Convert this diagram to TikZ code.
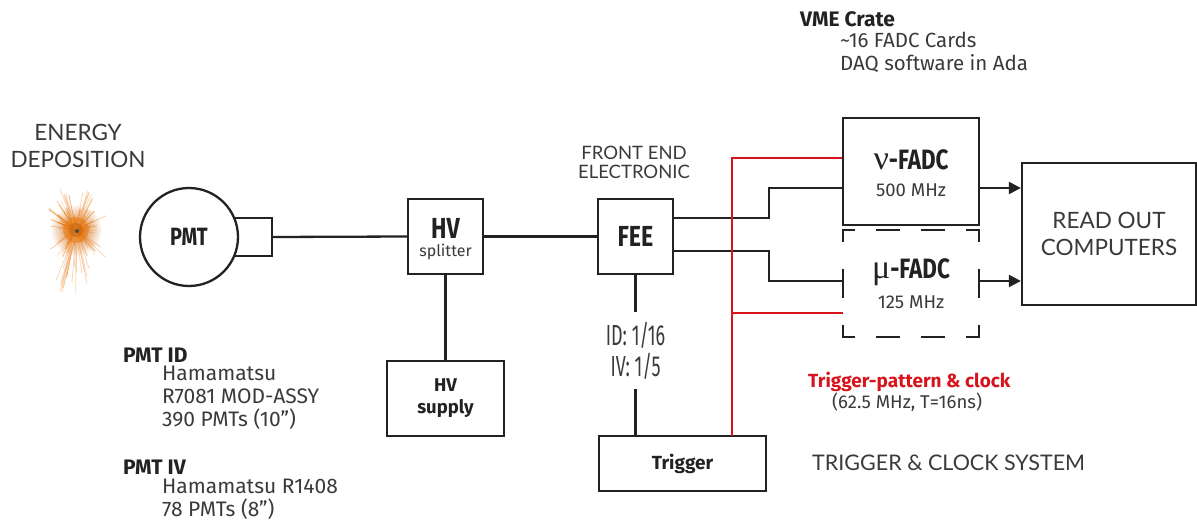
\documentclass[tikz,border=0pt]{standalone}
\usepackage{fontspec}
\setmainfont{Fira Sans}
\newfontfamily\condfont[FakeStretch=0.8]{Fira Sans}
\newfontfamily\idfont[FakeStretch=0.62]{Fira Sans}
\newfontfamily\geofont{Lato}
\newfontfamily\grkfont{Liberation Serif}
\usetikzlibrary{arrows.meta}
\definecolor{txt}{HTML}{3A3A3A}
\definecolor{dark}{HTML}{222222}
\definecolor{redline}{HTML}{D7141E}
\definecolor{burstc}{HTML}{E87A14}
\tikzset{
  box/.style={draw=dark, line width=2.3pt, fill=white, inner sep=0pt},
  wire/.style={draw=dark, line width=2.3pt},
  redwire/.style={draw=redline, line width=2.7pt},
  arr/.style={wire, -{Triangle[length=12pt,width=12pt]}},
  dbox/.style={draw=dark, line width=2.3pt, line cap=rect},
  lbl/.style={inner sep=0pt, text=txt},
  geo/.style={inner sep=0pt, text=txt, font=\geofont\fontsize{22.5}{27}\selectfont, align=center},
  boldc/.style={inner sep=0pt, text=dark, font=\condfont\bfseries\fontsize{29}{29}\selectfont},
  sub/.style={inner sep=0pt, text=txt, font=\fontsize{18.5}{18.5}\selectfont},
}
\begin{document}
\begin{tikzpicture}[x=1pt,y=-1pt]
\useasboundingbox (0,0) rectangle (1197,527);

% energy deposition burst
\shade[inner color=burstc!90!black, outer color=white] (76,230) circle[radius=26];
\pgfmathsetseed{11}
\foreach \i in {1,...,140}{
  \pgfmathsetmacro\ang{rnd*360}
  \pgfmathsetmacro\len{8+rnd*rnd*42}
  \pgfmathsetmacro\op{0.2+0.5*rnd}
  \draw[burstc, line width=0.8pt, opacity=\op] (76,230) -- ++(\ang:\len);
}
\foreach \i in {1,...,18}{
  \pgfmathsetmacro\ang{70+rnd*45}
  \pgfmathsetmacro\len{35+rnd*30}
  \draw[burstc!60, line width=0.8pt, opacity=0.5] (76,230) -- ++(\ang:\len);
}
\foreach \i in {1,...,10}{
  \pgfmathsetmacro\ang{240+rnd*60}
  \pgfmathsetmacro\len{30+rnd*15}
  \draw[burstc!60, line width=0.8pt, opacity=0.5] (76,230) -- ++(\ang:\len);
}
\fill[burstc, opacity=0.5] (76,230) circle[radius=13];
\fill[burstc!85!black, opacity=0.6] (76,230) circle[radius=7];
\fill[black!70] (77,231) circle[radius=2];

\node[geo] (energy) at (78,146) {ENERGY\\DEPOSITION};

% PMT
\node[box, minimum width=52, minimum height=38] (pmtbox) at (246,237) {};
\node[box, circle, minimum size=98, font=\condfont\bfseries\fontsize{25}{25}\selectfont, text=dark] (pmt) at (189,237) {PMT};

% HV splitter
\node[box, minimum width=75, minimum height=75] (hvs) at (445.5,236.5) {};
\node[boldc] (hvt) at (445.5,228) {HV};
\node[sub, font=\fontsize{16}{16}\selectfont] (hvsub) at (445.5,252) {splitter};

% HV supply
\node[box, minimum width=117, minimum height=75, align=center, text=dark,
  font=\bfseries\fontsize{18.5}{22}\selectfont] (hvsup) at (445.5,398.5) {HV\\supply};

% FEE
\node[box, minimum width=75, minimum height=75, boldc, inner sep=0pt] (fee) at (635.5,236.5) {FEE};
\node[geo, font=\geofont\fontsize{18.5}{19}\selectfont] (feelbl) at (634,162) {FRONT END\\ELECTRONIC};

% ID / IV label
\node[lbl, minimum height=77, align=center, font=\idfont\fontsize{29}{31}\selectfont] (idlbl) at (635.5,350.5) {ID: 1/16\\IV: 1/5};

% Trigger
\node[box, minimum width=167, minimum height=55, text=dark,
  font=\bfseries\fontsize{19}{19}\selectfont] (trig) at (682.5,463.5) {Trigger};
\node[geo, anchor=west, font=\geofont\fontsize{21.5}{27}\selectfont] (tcs) at (812,463) {TRIGGER \& CLOCK SYSTEM};

% FADCs
\node[box, minimum width=136, minimum height=107] (nu) at (911,171.5) {};
\node[boldc, font=\condfont\bfseries\fontsize{28}{28}\selectfont] (nut) at (911,160) {{\grkfont\mdseries\fontsize{34}{34}\selectfont ν}-FADC};
\node[sub] (nusub) at (911,190) {500 MHz};
\node[inner sep=0pt, minimum width=136, minimum height=107] (mu) at (911,283.5) {};
\node[boldc, font=\condfont\bfseries\fontsize{28}{28}\selectfont] (mut) at (911,272) {{\grkfont\mdseries\fontsize{34}{34}\selectfont μ}-FADC};
\node[sub] (musub) at (911,302) {125 MHz};
\draw[dbox, dash pattern=on 22pt off 23pt, dash phase=11pt] (mu.north west) -- (mu.north east);
\draw[dbox, dash pattern=on 22pt off 23pt, dash phase=11pt] (mu.south west) -- (mu.south east);
\draw[dbox, dash pattern=on 27pt off 29pt, dash phase=16pt] (mu.north west) -- (mu.south west);
\draw[dbox, dash pattern=on 27pt off 29pt, dash phase=16pt] (mu.north east) -- (mu.south east);

% Read out
\node[box, minimum width=174, minimum height=142, align=center,
  font=\geofont\fontsize{22.5}{27}\selectfont, text=txt] (ro) at (1109,234) {READ OUT\\COMPUTERS};

% texts
\node[lbl, anchor=west, text=dark, font=\bfseries\fontsize{21}{22}\selectfont] (vme) at (800,19) {VME Crate};
\node[lbl, anchor=north west, align=left, font=\fontsize{20.5}{22.5}\selectfont] (vmebody) at (840,32) {\textasciitilde16 FADC Cards\\DAQ software in Ada};

\node[lbl, anchor=west, text=dark, font=\bfseries\fontsize{21}{22}\selectfont] (pmtid) at (123,355) {PMT ID};
\node[lbl, anchor=north west, align=left, font=\fontsize{21}{23}\selectfont] (pmtidbody) at (162,366) {Hamamatsu\\R7081 MOD-ASSY\\390 PMTs (10")};
\node[lbl, anchor=west, text=dark, font=\bfseries\fontsize{21}{22}\selectfont] (pmtiv) at (123,467) {PMT IV};
\node[lbl, anchor=north west, align=left, font=\fontsize{21}{23}\selectfont] (pmtivbody) at (162,479) {Hamamatsu R1408\\78 PMTs (8")};

\node[lbl, anchor=west, text=redline, font=\bfseries\fontsize{19}{20}\selectfont] (tpat) at (808,382) {Trigger-pattern \& clock};
\node[lbl, anchor=west, font=\fontsize{18.5}{20}\selectfont] (tclk) at (832,402) {(62.5 MHz, T=16ns)};

% connectors
\draw[wire] (pmtbox.east) -- (hvs.west);
\draw[wire] (hvs.east) -- (fee.west);
\draw[wire] (hvs.south) -- (hvsup.north);
\draw[wire] (fee.south) -- (idlbl.north);
\draw[wire] (idlbl.south) -- (idlbl.south |- trig.north);

\coordinate (feeo1) at ([yshift=18.5pt]fee.east);
\coordinate (feeo2) at ([yshift=-14.5pt]fee.east);
\coordinate (nuin) at ([yshift=-16.5pt]nu.west);
\coordinate (muin) at ([yshift=2.5pt]mu.west);
\coordinate (nuout) at ([yshift=-16.5pt]nu.east);
\coordinate (muout) at ([yshift=2.5pt]mu.east);
\draw[wire] (feeo1) -- ++(95,0) |- (nuin);
\draw[wire] (feeo2) -- ++(95,0) |- (muin);
\draw[arr] (nuout) -- (nuout -| ro.west);
\draw[arr] (muout) -- (muout -| ro.west);

\coordinate (rbot) at (732,436);
\coordinate (rnu) at ([yshift=13.5pt]nu.west);
\coordinate (rmu) at ([yshift=-29.5pt]mu.west);
\draw[redwire] (rbot) |- (rnu);
\draw[redwire] (rbot |- rmu) -- (rmu);
\end{tikzpicture}
\end{document}
